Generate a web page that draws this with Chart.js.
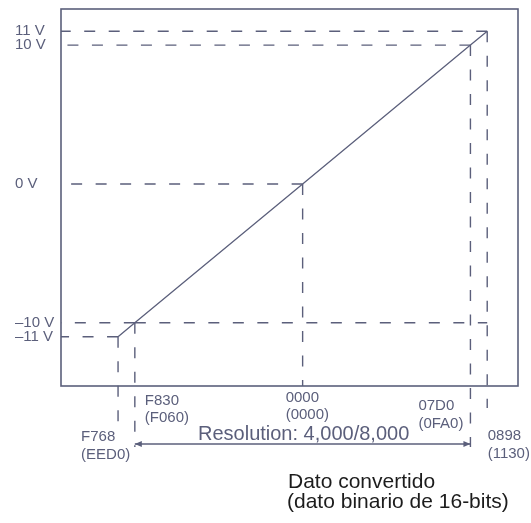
<!DOCTYPE html>
<html>
<head>
<meta charset="utf-8">
<script src="https://cdn.jsdelivr.net/npm/chart.js@4/dist/chart.umd.min.js"></script>
<style>
  html, body { margin: 0; padding: 0; background: #fff; }
  canvas { display: block; }
</style>
</head>
<body>
<canvas id="dac" width="531" height="523"></canvas>
<script>
// Converted data (16-bit code, decimal) vs analog output
const codes = [-2200, -2000, 0, 2000, 2200];
const volts = [-11, -10, 0, 10, 11];
const hexLabels = ['F768', 'F830', '0000', '07D0', '0898'];
const hexLabels8k = ['EED0', 'F060', '0000', '0FA0', '1130'];
const voltLabels = ['\u201311 V', '\u201310 V', '0 V', '10 V', '11 V'];
const resolutionText = 'Resolution: 4,000/8,000';
const axisTitle = ['Dato convertido', '(dato binario de 16-bits)'];

const INK = '#5b5f7b';
const FONT = '"Liberation Sans", Arial, sans-serif';

// guides, box, code labels, resolution arrow and axis title
const guides = {
  id: 'guides',
  beforeDatasetsDraw(chart) {
    const { ctx, chartArea: a, scales: { x, y } } = chart;
    const drop = [42, 61, 0, 61, 22];      // how far verticals run below the box
    const hTo = { 1: 2200 };               // -10 V guide runs across to 0898
    ctx.save();
    ctx.strokeStyle = INK;
    ctx.lineWidth = 1.4;
    ctx.setLineDash([11, 13.5]);
    codes.forEach((c, i) => {
      const px = x.getPixelForValue(c), py = y.getPixelForValue(volts[i]);
      // horizontal, starting at the point
      ctx.beginPath();
      ctx.moveTo(px, py); ctx.lineTo(a.left, py);
      if (hTo[i] !== undefined) { ctx.moveTo(px, py); ctx.lineTo(x.getPixelForValue(hTo[i]), py); }
      ctx.stroke();
      // vertical, starting at the point
      ctx.beginPath();
      ctx.moveTo(px, py); ctx.lineTo(px, a.bottom + drop[i]);
      ctx.stroke();
    });
    ctx.setLineDash([]);
    ctx.lineWidth = 1.6;
    ctx.strokeRect(a.left, a.top, a.right - a.left, a.bottom - a.top);
    ctx.restore();
  },
  afterDraw(chart) {
    const { ctx, chartArea: a, scales: { x } } = chart;
    const dx = [-37, 10, -17, -52, 0.5];
    const dy = [51, 14.5, 11.5, 20, 50];
    ctx.save();
    ctx.fillStyle = INK;
    ctx.font = '15px ' + FONT;
    ctx.textAlign = 'left';
    ctx.textBaseline = 'middle';
    codes.forEach((c, i) => {
      const px = x.getPixelForValue(c) + dx[i], py = a.bottom + dy[i];
      ctx.fillText(hexLabels[i], px, py);
      ctx.fillText('(' + hexLabels8k[i] + ')', px, py + 17.5);
    });

    // resolution arrow between F830 and 07D0
    const x1 = x.getPixelForValue(codes[1]), x2 = x.getPixelForValue(codes[3]);
    const ay = a.bottom + 58;
    ctx.strokeStyle = INK;
    ctx.lineWidth = 1.4;
    ctx.beginPath(); ctx.moveTo(x1, ay); ctx.lineTo(x2, ay); ctx.stroke();
    ctx.beginPath();
    ctx.moveTo(x1, ay); ctx.lineTo(x1 + 7, ay - 3); ctx.lineTo(x1 + 7, ay + 3); ctx.closePath();
    ctx.moveTo(x2, ay); ctx.lineTo(x2 - 7, ay - 3); ctx.lineTo(x2 - 7, ay + 3); ctx.closePath();
    ctx.fill();
    ctx.font = '20px ' + FONT;
    ctx.textAlign = 'center';
    ctx.textBaseline = 'alphabetic';
    ctx.fillText(resolutionText, (x1 + x2) / 2 + 1, ay - 4);

    // axis title
    ctx.fillStyle = '#1c1c1c';
    ctx.font = '21px ' + FONT;
    ctx.textAlign = 'left';
    ctx.fillText(axisTitle[0], 288, 488);
    ctx.fillText(axisTitle[1], 287, 508);
    ctx.restore();
  }
};

new Chart(document.getElementById('dac'), {
  type: 'line',
  data: {
    datasets: [{
      data: codes.map((c, i) => ({ x: c, y: volts[i] })),
      borderColor: INK,
      borderWidth: 1.3,
      pointRadius: 0,
      tension: 0,
      fill: false
    }]
  },
  options: {
    responsive: false,
    animation: false,
    events: [],
    layout: { padding: { left: 15, top: 9, right: 13, bottom: 0 } },
    plugins: { legend: { display: false }, tooltip: { enabled: false } },
    scales: {
      x: {
        type: 'linear',
        min: -2880, max: 2567,
        grid: { display: false },
        border: { display: false },
        ticks: { display: false },
        afterFit(s) { s.height = 137; }
      },
      y: {
        type: 'linear',
        min: -14.55, max: 12.6,
        grid: { display: false },
        border: { display: false },
        afterBuildTicks(s) { s.ticks = volts.map(v => ({ value: v })); },
        afterFit(s) { s.width = 46; },
        ticks: {
          crossAlign: 'far',
          padding: 0,
          color: INK,
          font: { family: FONT, size: 15 },
          callback: (v) => voltLabels[volts.indexOf(v)]
        }
      }
    }
  },
  plugins: [guides]
});
</script>
</body>
</html>
